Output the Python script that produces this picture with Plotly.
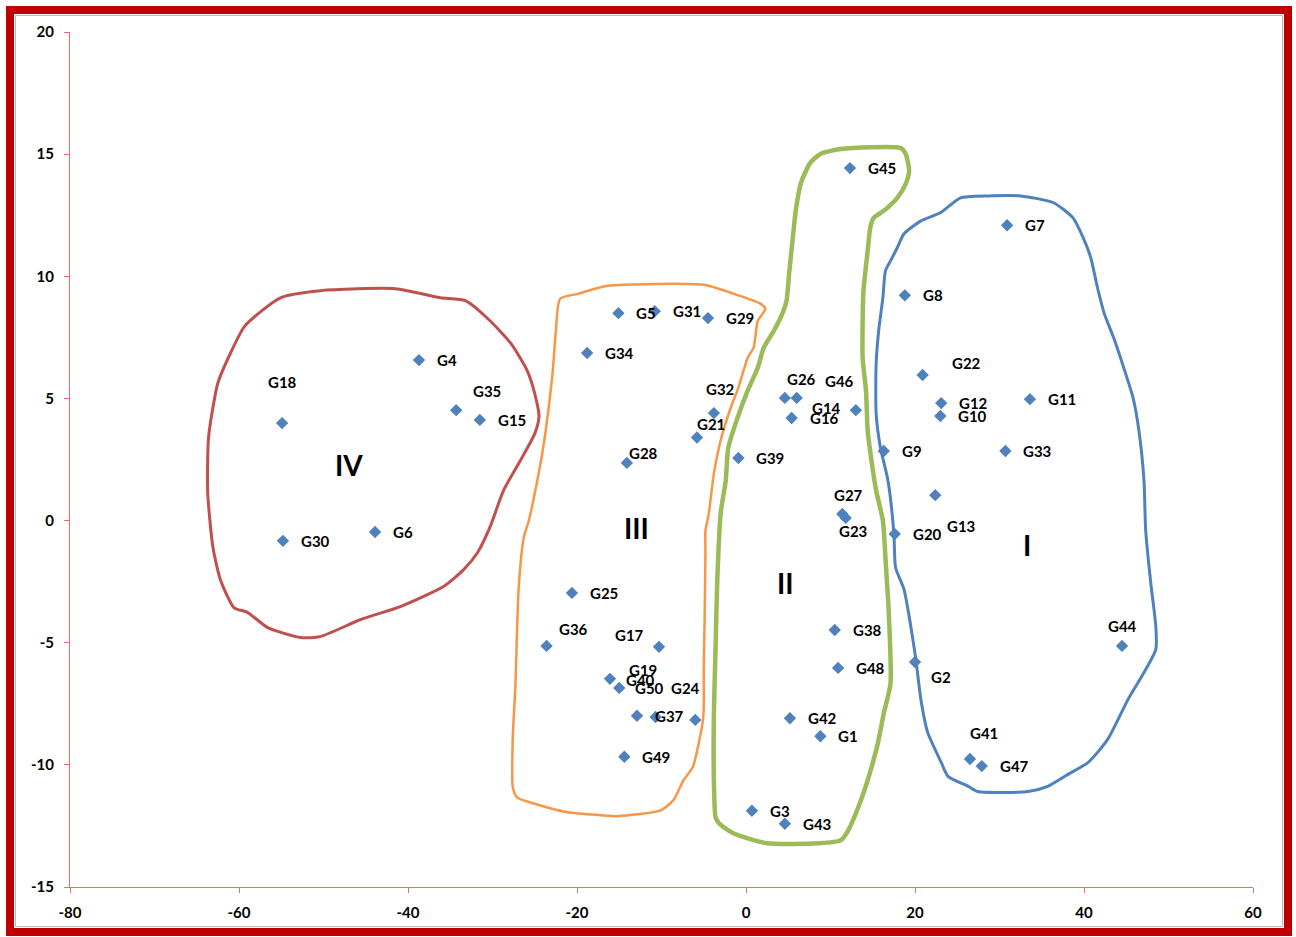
import plotly.graph_objects as go

# ---------------- data ----------------
names = [f"G{i}" for i in range(1, 51)]
x_vals = [8.8, 20.0, 0.7, -38.7, -15.1, -43.9, 30.9, 18.8, 16.3, 23.0,
          33.6, 23.1, 22.4, 13.0, -31.5, 5.4, -10.3, -54.9, -16.1, 17.6,
          -5.8, 20.9, 11.8, -6.0, -20.6, 4.6, 11.4, -14.1, -4.5, -54.8,
          -10.8, -3.8, 30.7, -18.8, -34.3, -23.6, -12.9, 10.5, -0.9, -15.0,
          26.5, 5.2, 4.6, 44.5, 12.3, 6.0, 27.9, 10.9, -14.4, -10.7]
y_vals = [-8.83, -5.79, -11.88, 6.57, 8.49, -0.47, 12.09, 9.22, 2.85, 4.28,
          4.97, 4.81, 1.04, 4.52, 4.12, 4.20, -5.17, 3.99, -6.48, -0.55,
          3.40, 5.96, 0.11, -8.16, -2.96, 5.02, 0.27, 2.36, 8.29, -0.83,
          8.57, 4.40, 2.85, 6.86, 4.52, -5.13, -7.99, -4.48, 2.56, -6.85,
          -9.76, -8.09, -12.41, -5.13, 14.43, 5.02, -10.05, -6.03, -9.67, -8.04]

x_ticks = [-80, -60, -40, -20, 0, 20, 40, 60]
y_ticks = [-15, -10, -5, 0, 5, 10, 15, 20]

group_names = ["I", "II", "III", "IV"]
group_label_x = [33.3, 4.7, -13.0, -47.0]
group_label_y = [-1.0, -2.55, -0.30, 2.27]

# hand-drawn cluster outlines (data coordinates)
outline_I_x = [25.4, 28.6, 32.5, 36.4, 38.7, 39.9, 40.8, 41.6, 42.4, 43.5, 44.7, 45.8, 46.5, 47.1, 47.3,
               47.9, 48.5, 48.5, 47.1, 45.2, 42.8, 40.5, 38.1, 35.7, 33.4, 27.4, 26.3, 23.9, 23.1, 21.5,
               20.7, 20.1, 19.5, 18.7, 17.7, 17.5, 16.8, 15.9, 15.4, 15.4, 15.7, 16.2, 16.5, 17.1, 17.9,
               18.7, 20.7, 23.0, 25.4]
outline_I_y = [13.21, 13.29, 13.29, 13.01, 12.39, 11.58, 10.76, 9.53, 8.47, 7.49, 6.26, 5.03, 3.68, 1.64, -0.41,
               -2.55, -4.33, -5.27, -6.22, -7.33, -8.96, -9.90, -10.39, -10.88, -11.09, -11.09, -10.88, -10.47, -9.90, -8.67,
               -7.33, -5.68, -4.33, -2.82, -1.92, -0.53, 1.64, 3.00, 4.38, 6.42, 7.77, 9.12, 10.22, 10.63, 11.17,
               11.74, 12.27, 12.60, 13.21]

outline_II_x = [8.8, 11.2, 18.3, 18.9, 19.3, 18.9, 17.9, 16.3, 15.1, 14.7, 14.4, 13.9, 13.8, 13.8, 14.2,
                14.4, 14.8, 15.4, 16.2, 16.5, 16.9, 17.1, 16.3, 15.6, 14.4, 13.6, 12.1, 11.2, 8.5, 2.5,
                -1.5, -3.2, -3.6, -3.8, -3.8, -3.6, -3.4, -3.0, -2.4, -2.1, -1.0, 0.2, 1.4, 2.1, 3.3,
                4.3, 4.8, 5.1, 5.5, 5.9, 6.5, 7.6, 8.8]
outline_II_y = [15.01, 15.21, 15.25, 15.01, 14.31, 13.78, 13.21, 12.68, 12.39, 11.98, 11.04, 9.41, 8.06, 6.67, 5.32,
                3.69, 2.58, 1.23, 0.00, -1.51, -3.80, -6.67, -7.90, -9.12, -10.63, -11.45, -12.68, -13.09, -13.21, -13.21,
                -12.80, -12.39, -12.14, -10.63, -7.90, -5.20, -2.46, 0.29, 1.64, 2.98, 4.21, 5.32, 6.26, 7.08, 7.77,
                8.47, 9.00, 10.10, 11.45, 12.72, 13.82, 14.64, 15.01]

outline_III_x = [-19.9, -16.4, -5.0, -1.5, 1.7, 2.3, 1.4, 0.9, 0.2, -0.9, -1.8, -3.0, -3.8, -4.4, -4.8,
                 -4.8, -4.9, -5.0, -5.0, -5.1, -5.7, -6.3, -7.4, -8.6, -10.1, -15.2, -17.2, -21.1, -25.2, -27.1,
                 -27.6, -27.6, -27.3, -26.9, -26.3, -25.7, -25.1, -24.0, -22.9, -22.5, -22.0, -19.9]
outline_III_y = [9.28, 9.61, 9.65, 9.29, 8.88, 8.67, 8.18, 7.08, 6.67, 5.44, 4.63, 3.28, 1.93, 0.29, -0.41,
                 -1.35, -4.09, -6.13, -7.65, -8.18, -9.28, -10.10, -10.63, -11.45, -11.86, -12.10, -12.06, -11.94, -11.57, -11.33,
                 -10.92, -8.87, -6.83, -2.74, -0.69, 0.00, 0.94, 2.99, 6.02, 7.78, 9.08, 9.28]

outline_IV_x = [-59.3, -55.1, -50.4, -41.5, -36.2, -33.2, -30.3, -27.8, -25.9, -25.0, -24.5, -25.0, -26.7, -28.7, -30.3,
                -31.8, -33.5, -35.8, -40.9, -45.6, -50.4, -52.7, -56.6, -59.0, -60.6, -62.2, -63.1, -63.7, -63.6, -62.5,
                -61.0, -59.3]
outline_IV_y = [7.97, 9.12, 9.41, 9.49, 9.12, 9.00, 8.18, 7.24, 6.14, 5.20, 4.25, 3.56, 2.46, 1.23, -0.27,
                -1.33, -2.04, -2.70, -3.52, -4.05, -4.75, -4.79, -4.38, -3.76, -3.56, -2.42, -1.06, 1.13, 3.42, 5.63,
                6.86, 7.97]

outlines = [
    (outline_I_x, outline_I_y, "#4F81BD", 3),
    (outline_II_x, outline_II_y, "#9BBB59", 4.5),
    (outline_III_x, outline_III_y, "#F79646", 2.5),
    (outline_IV_x, outline_IV_y, "#C0504D", 3),
]

# label placement (pixel offsets relative to the marker; default = right of marker)
label_default = (16, 0, "left")
label_offsets = {
    "G18": (0, -41, "center"), "G35": (31, -19, "center"), "G32": (7, -24, "center"),
    "G21": (14, -14, "center"), "G28": (17, -10, "center"), "G36": (27, -17, "center"),
    "G17": (-29, -12, "center"), "G19": (33, -9, "center"), "G40": (21, -8, "center"),
    "G50": (-6, -29, "center"), "G24": (-10, -32, "center"), "G26": (17, -19, "center"),
    "G46": (43, -17, "center"), "G14": (-29, -2, "center"), "G27": (6, -19, "center"),
    "G23": (7, 13, "center"), "G22": (44, -12, "center"), "G13": (26, 31, "center"),
    "G2": (26, 15, "center"), "G44": (0, -20, "center"), "G41": (14, -26, "center"),
}

FONT = "Lato, 'Open Sans', Arial, sans-serif"

# ---------------- figure ----------------
W, H = 1296, 937
ML, MR, MT, MB = 70, 43, 32, 50

fig = go.Figure()

for ox, oy, col, lw in outlines:
    fig.add_trace(go.Scatter(x=ox, y=oy, mode="lines",
                             line=dict(color=col, width=lw, shape="spline", smoothing=0.6),
                             hoverinfo="skip", showlegend=False))

fig.add_trace(go.Scatter(x=x_vals, y=y_vals, mode="markers", text=names,
                         marker=dict(symbol="diamond", size=9.5, color="#4F81BD"),
                         showlegend=False))

annotations = []
for n, xv, yv in zip(names, x_vals, y_vals):
    dx, dy, anc = label_offsets.get(n, label_default)
    annotations.append(dict(x=xv, y=yv, xref="x", yref="y", text=n, showarrow=False,
                            xanchor=anc, yanchor="middle", xshift=dx, yshift=-dy,
                            font=dict(family=FONT, size=15, color="black", weight="bold")))
for g, gx, gy in zip(group_names, group_label_x, group_label_y):
    annotations.append(dict(x=gx, y=gy, xref="x", yref="y", text=g, showarrow=False,
                            xanchor="center", yanchor="middle",
                            font=dict(family=FONT, size=28, color="black", weight="bold")))

pw = W - ML - MR
ph = H - MT - MB


def px2paper_x(px):
    return (px - ML) / pw


def px2paper_y(py):
    return (H - MB - py) / ph


shapes = [
    dict(type="rect", xref="paper", yref="paper",
         x0=px2paper_x(10), x1=px2paper_x(1288), y0=px2paper_y(932), y1=px2paper_y(10),
         line=dict(color="#C00000", width=8), layer="above"),
    dict(type="rect", xref="paper", yref="paper",
         x0=px2paper_x(15.5), x1=px2paper_x(1282.5), y0=px2paper_y(926.5), y1=px2paper_y(15.5),
         line=dict(color="#BDBDBD", width=1), layer="above"),
]

axis_common = dict(showgrid=False, zeroline=False, showline=True, linecolor="#F26B6B", linewidth=1,
                   ticks="outside", ticklen=5, tickcolor="#F26B6B", tickwidth=1,
                   tickfont=dict(family=FONT, size=15, color="black", weight="bold"),
                   ticklabelstandoff=7, fixedrange=True)

fig.update_layout(
    width=W, height=H,
    margin=dict(l=ML, r=MR, t=MT, b=MB),
    paper_bgcolor="white", plot_bgcolor="white",
    xaxis=dict(range=[-80, 60], tickvals=x_ticks, ticktext=[str(v) for v in x_ticks], **axis_common),
    yaxis=dict(range=[-15, 20], tickvals=y_ticks, ticktext=[str(v) for v in y_ticks], **axis_common),
    annotations=annotations,
    shapes=shapes,
    showlegend=False,
)

fig.write_html("out.html")
